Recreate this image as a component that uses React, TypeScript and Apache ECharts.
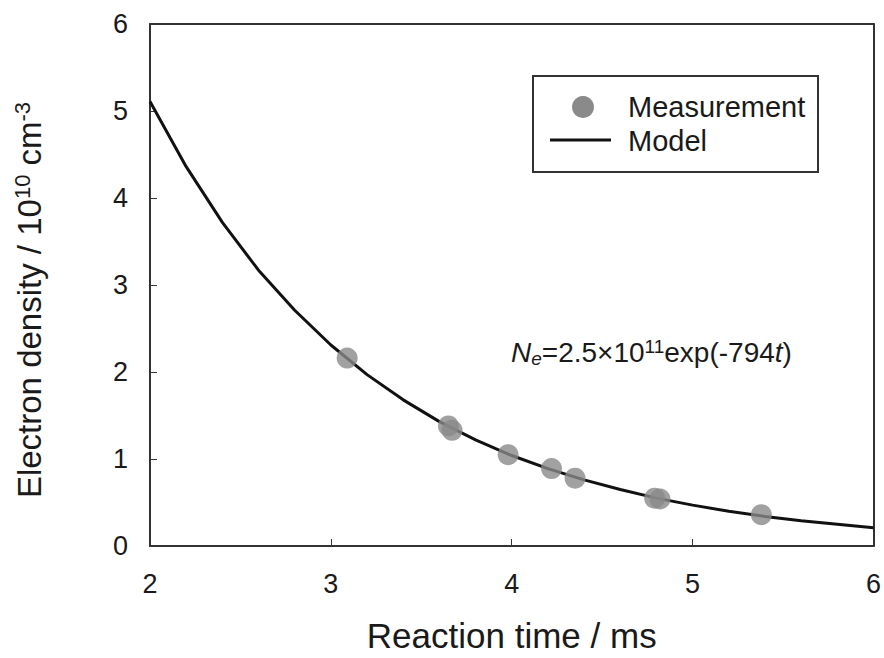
import React, { useEffect, useRef } from "react";
import * as echarts from "echarts";

const measTime = [3.09, 3.65, 3.67, 3.98, 4.22, 4.35, 4.79, 4.82, 5.38];
const measDensity = [2.16, 1.38, 1.33, 1.05, 0.89, 0.78, 0.55, 0.54, 0.36];

const modelTime = [2.0, 2.2, 2.4, 2.6, 2.8, 3.0, 3.2, 3.4, 3.6, 3.8, 4.0, 4.2, 4.4, 4.6, 4.8, 5.0, 5.2, 5.4, 5.6, 5.8, 6.0];
const modelDensity = [5.11, 4.36, 3.72, 3.17, 2.71, 2.31, 1.97, 1.68, 1.43, 1.22, 1.04, 0.89, 0.76, 0.65, 0.55, 0.47, 0.40, 0.34, 0.29, 0.25, 0.21];

const FONT = "Liberation Sans, Arial, sans-serif";
const INK = "#1a1a1a";

export default function App() {
  const ref = useRef<HTMLDivElement>(null);
  useEffect(() => {
    if (!ref.current) return;
    const chart = echarts.init(ref.current, undefined, { renderer: "svg" });
    const frameLine = { show: true, onZero: false, lineStyle: { color: "#333", width: 2 } };
    chart.setOption({
      animation: false,
      backgroundColor: "#fff",
      textStyle: { fontFamily: FONT },
      grid: { left: 150, right: 6, top: 24, bottom: 112, containLabel: false },
      xAxis: [
        {
          type: "value",
          min: 2,
          max: 6,
          interval: 1,
          axisLine: frameLine,
          axisTick: { show: true, inside: true, length: 7, lineStyle: { color: "#333", width: 1 } },
          splitLine: { show: false },
          axisLabel: { color: INK, fontSize: 27, margin: 24, fontFamily: FONT },
          name: "Reaction time / ms",
          nameLocation: "middle",
          nameGap: 72,
          nameTextStyle: { color: INK, fontSize: 35, fontFamily: FONT },
        },
        {
          type: "value",
          position: "top",
          min: 2,
          max: 6,
          interval: 1,
          axisLine: frameLine,
          axisTick: { show: false },
          axisLabel: { show: false },
          splitLine: { show: false },
        },
      ],
      yAxis: [
        {
          type: "value",
          min: 0,
          max: 6,
          interval: 1,
          axisLine: frameLine,
          axisTick: { show: true, inside: true, length: 7, lineStyle: { color: "#333", width: 1 } },
          splitLine: { show: false },
          axisLabel: { color: INK, fontSize: 27, margin: 22, fontFamily: FONT },
        },
        {
          type: "value",
          position: "right",
          min: 0,
          max: 6,
          interval: 1,
          axisLine: frameLine,
          axisTick: { show: false },
          axisLabel: { show: false },
          splitLine: { show: false },
        },
      ],
      series: [
        {
          name: "Model",
          type: "line",
          data: modelTime.map((t, i) => [t, modelDensity[i]]),
          showSymbol: false,
          symbol: "none",
          lineStyle: { color: "#111", width: 3 },
          z: 2,
        },
        {
          name: "Measurement",
          type: "scatter",
          data: measTime.map((t, i) => [t, measDensity[i]]),
          symbol: "circle",
          symbolSize: 21,
          itemStyle: { color: "#8a8a8a" },
          z: 3,
        },
      ],
      graphic: [
        {
          type: "text",
          x: 29,
          y: 300,
          rotation: Math.PI / 2,
          style: {
            text: "{a|Electron density / 10}{s|10}{a| cm}{s|-3}",
            fontFamily: FONT,
            align: "center",
            verticalAlign: "middle",
            rich: {
              a: { fontSize: 33, fill: INK, fontFamily: FONT },
              s: { fontSize: 22, fill: INK, fontFamily: FONT, padding: [0, 0, 14, 0] },
            },
          },
        },
        {
          type: "rect",
          shape: { x: 533, y: 76, width: 285, height: 96 },
          style: { fill: "#fff", stroke: "#333", lineWidth: 2 },
          z: 10,
        },
        {
          type: "circle",
          shape: { cx: 583, cy: 107, r: 11 },
          style: { fill: "#8a8a8a" },
          z: 11,
        },
        {
          type: "line",
          shape: { x1: 550, y1: 140, x2: 611, y2: 140 },
          style: { stroke: "#111", lineWidth: 3 },
          z: 11,
        },
        {
          type: "text",
          x: 628,
          y: 107,
          style: { text: "Measurement", fontSize: 29, fill: INK, fontFamily: FONT, verticalAlign: "middle" },
          z: 11,
        },
        {
          type: "text",
          x: 628,
          y: 141,
          style: { text: "Model", fontSize: 29, fill: INK, fontFamily: FONT, verticalAlign: "middle" },
          z: 11,
        },
        {
          type: "text",
          x: 511,
          y: 352,
          style: {
            text: "{i|N}{is|e}{n|=2.5×10}{s|11}{n|exp(-794}{i|t}{n|)}",
            fontFamily: FONT,
            verticalAlign: "middle",
            rich: {
              n: { fontSize: 28, fill: INK, fontFamily: FONT },
              i: { fontSize: 28, fill: INK, fontFamily: FONT, fontStyle: "italic" },
              is: { fontSize: 19, fill: INK, fontFamily: FONT, fontStyle: "italic", padding: [12, 0, 0, 0] },
              s: { fontSize: 19, fill: INK, fontFamily: FONT, padding: [0, 0, 12, 0] },
            },
          },
          z: 11,
        },
      ],
    });
    return () => chart.dispose();
  }, []);
  return (
    <div
      ref={ref}
      style={{ position: "absolute", left: 0, top: 0, width: 884, height: 658 }}
    />
  );
}
